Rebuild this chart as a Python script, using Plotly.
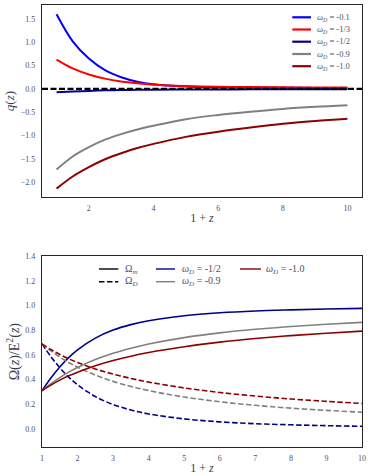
import plotly.graph_objects as go
from plotly.subplots import make_subplots

# ---------------- data: top panel q(z) ----------------
q_x = [1, 1.5, 2, 2.5, 3, 3.5, 4, 5, 6, 7, 8, 9, 10]
q_w01 = [1.60, 1.02, 0.65, 0.40, 0.25, 0.155, 0.10, 0.05, 0.035, 0.03, 0.025, 0.02, 0.02]
q_w13 = [0.63, 0.44, 0.31, 0.22, 0.16, 0.12, 0.09, 0.06, 0.045, 0.04, 0.035, 0.03, 0.03]
q_w12 = [-0.07, -0.055, -0.043, -0.032, -0.025, -0.02, -0.017, -0.013, -0.011, -0.01, -0.009, -0.008, -0.008]
q_w09 = [-1.73, -1.45, -1.25, -1.09, -0.97, -0.87, -0.79, -0.65, -0.56, -0.49, -0.43, -0.385, -0.35]
q_w10 = [-2.14, -1.88, -1.68, -1.51, -1.38, -1.27, -1.18, -1.03, -0.92, -0.83, -0.75, -0.69, -0.64]
q_labels = ["-0.1", "-1/3", "-1/2", "-0.9", "-1.0"]

# ---------------- data: bottom panel Omega(z)/E^2(z) ----------------
om_x = [1, 1.25, 1.5, 1.75, 2, 2.5, 3, 3.5, 4, 5, 6, 7, 8, 9, 10]
om_m_w12 = [0.31, 0.413, 0.503, 0.579, 0.642, 0.737, 0.802, 0.846, 0.878, 0.918, 0.942, 0.957, 0.966, 0.973, 0.978]
om_d_w12 = [0.69, 0.587, 0.497, 0.421, 0.358, 0.263, 0.198, 0.154, 0.122, 0.082, 0.058, 0.043, 0.034, 0.027, 0.022]
om_m_w09 = [0.31, 0.367, 0.417, 0.461, 0.499, 0.563, 0.614, 0.655, 0.689, 0.741, 0.779, 0.808, 0.831, 0.849, 0.864]
om_d_w09 = [0.69, 0.633, 0.583, 0.539, 0.501, 0.437, 0.386, 0.345, 0.311, 0.259, 0.221, 0.192, 0.169, 0.151, 0.136]
om_m_w10 = [0.31, 0.356, 0.396, 0.431, 0.461, 0.513, 0.555, 0.590, 0.620, 0.667, 0.704, 0.733, 0.757, 0.776, 0.793]
om_d_w10 = [0.69, 0.644, 0.604, 0.569, 0.539, 0.487, 0.445, 0.410, 0.380, 0.333, 0.296, 0.267, 0.243, 0.224, 0.207]
om_labels = ["-1/2", "-0.9", "-1.0"]

top_ticks = [-2.0, -1.5, -1.0, -0.5, 0.0, 0.5, 1.0, 1.5]
top_xticks = [2, 4, 6, 8, 10]
bot_ticks = [0.0, 0.2, 0.4, 0.6, 0.8, 1.0, 1.2, 1.4]
bot_xticks = [1, 2, 3, 4, 5, 6, 7, 8, 9, 10]

# ---------------- style ----------------
W, H = 372, 475
ML, MR, MT, MB = 42, 10, 5, 28
FONT = "Liberation Serif"
TICKC = "#4a5266"
TXTC = "#3a3f4f"
FRAME = "#262626"
C_BLUE, C_RED, C_NAVY, C_GRAY, C_DRED = "#0000ff", "#ff0000", "#00008b", "#808080", "#8b0000"
DASH = "5.5px,2.5px"

def px2paper_x(px):
    return (px - ML) / (W - ML - MR)

def px2paper_y(py):
    return (H - MB - py) / (H - MT - MB)

top_dom = [px2paper_y(197), 1.0]
bot_dom = [0.0, px2paper_y(256.3)]

fig = make_subplots(rows=2, cols=1)

# top panel curves
top_series = [q_w01, q_w13, q_w12, q_w09, q_w10]
top_colors = [C_BLUE, C_RED, C_NAVY, C_GRAY, C_DRED]
for ys, c, lab in zip(top_series, top_colors, q_labels):
    fig.add_trace(go.Scatter(x=q_x, y=ys, mode="lines", line=dict(color=c, width=2, shape="spline"),
                             name="ω_D = " + lab, showlegend=False), row=1, col=1)

# zero reference line
fig.add_shape(type="line", xref="x domain", yref="y", x0=0, x1=1, y0=0, y1=0,
              line=dict(color="black", width=2.4, dash="6px,2.5px"), layer="above")

# bottom panel curves
bot_pairs = [(om_m_w12, om_d_w12, C_NAVY), (om_m_w09, om_d_w09, C_GRAY), (om_m_w10, om_d_w10, C_DRED)]
for (m, d, c), lab in zip(bot_pairs, om_labels):
    fig.add_trace(go.Scatter(x=om_x, y=m, mode="lines", line=dict(color=c, width=1.6, shape="spline"),
                             name="Ω_m ω_D = " + lab, showlegend=False), row=2, col=1)
    fig.add_trace(go.Scatter(x=om_x, y=d, mode="lines", line=dict(color=c, width=1.6, shape="spline", dash=DASH),
                             name="Ω_D ω_D = " + lab, showlegend=False), row=2, col=1)

# ---------------- manual legends ----------------
def leg_entry(x0, x1, xt, y, color, text, size, dash=None, width=2):
    ln = dict(color=color, width=width)
    if dash:
        ln["dash"] = dash
    fig.add_shape(type="line", xref="paper", yref="paper",
                  x0=px2paper_x(x0), x1=px2paper_x(x1), y0=px2paper_y(y), y1=px2paper_y(y), line=ln)
    fig.add_annotation(xref="paper", yref="paper", x=px2paper_x(xt), y=px2paper_y(y),
                       xanchor="left", yanchor="middle", text=text, showarrow=False,
                       font=dict(family=FONT, size=size, color=TICKC), borderpad=0)

top_rows = [17.3, 29.5, 41.7, 54.0, 66.2]
for yv, c, lab in zip(top_rows, top_colors, q_labels):
    leg_entry(292.3, 311, 315.5, yv, c, "<i>ω<sub>D</sub></i> = " + lab, 8.5, width=2.2)

leg_entry(99, 118.3, 123.5, 269, "black", "Ω<sub><i>m</i></sub>", 10, width=1.4)
leg_entry(99, 118.3, 123.5, 281.7, "black", "Ω<sub><i>D</i></sub>", 10, dash=DASH, width=1.4)
leg_entry(156, 175, 180.5, 269, C_NAVY, "<i>ω<sub>D</sub></i> = " + om_labels[0], 10, width=1.4)
leg_entry(156, 175, 180.5, 281.7, C_GRAY, "<i>ω<sub>D</sub></i> = " + om_labels[1], 10, width=1.4)
leg_entry(240, 261, 265, 269, C_DRED, "<i>ω<sub>D</sub></i> = " + om_labels[2], 10, width=1.4)

# ---------------- axes ----------------
axis_common = dict(showline=True, mirror=True, linecolor=FRAME, linewidth=1.3, showgrid=False,
                   zeroline=False, ticks="", tickfont=dict(family=FONT, size=8, color=TICKC))

fig.update_xaxes(**axis_common)
fig.update_yaxes(**axis_common)

fig.update_xaxes(row=1, col=1, range=[0.55, 10.45], tickvals=top_xticks, domain=[0, 1],
                 ticklabelstandoff=3,
                 title=dict(text="1 + <i>z</i>", font=dict(family=FONT, size=12, color=TXTC), standoff=1))
fig.update_yaxes(row=1, col=1, range=[-2.32, 1.80], tickvals=top_ticks, tickformat=".1f", domain=top_dom,
                 ticklabelstandoff=4,
                 title=dict(text="<i>q</i>(<i>z</i>)", font=dict(family=FONT, size=13, color=TXTC), standoff=3))
fig.update_xaxes(row=2, col=1, range=[1, 10], tickvals=bot_xticks, domain=[0, 1],
                 ticklabelstandoff=3,
                 title=dict(text="1 + <i>z</i>", font=dict(family=FONT, size=12, color=TXTC), standoff=1))
fig.update_yaxes(row=2, col=1, range=[-0.146, 1.4], tickvals=bot_ticks, tickformat=".1f", domain=bot_dom,
                 ticklabelstandoff=4,
                 title=dict(text="Ω(<i>z</i>)/E<sup>2</sup>(<i>z</i>)", font=dict(family=FONT, size=14, color=TXTC), standoff=2))

fig.update_layout(width=W, height=H, margin=dict(l=ML, r=MR, t=MT, b=MB, autoexpand=False),
                  paper_bgcolor="white", plot_bgcolor="white", showlegend=False,
                  font=dict(family=FONT, color=TICKC))

fig.write_html("out.html", config={"displayModeBar": False},
               post_script="document.body.style.margin='0';document.body.style.overflow='hidden';")
